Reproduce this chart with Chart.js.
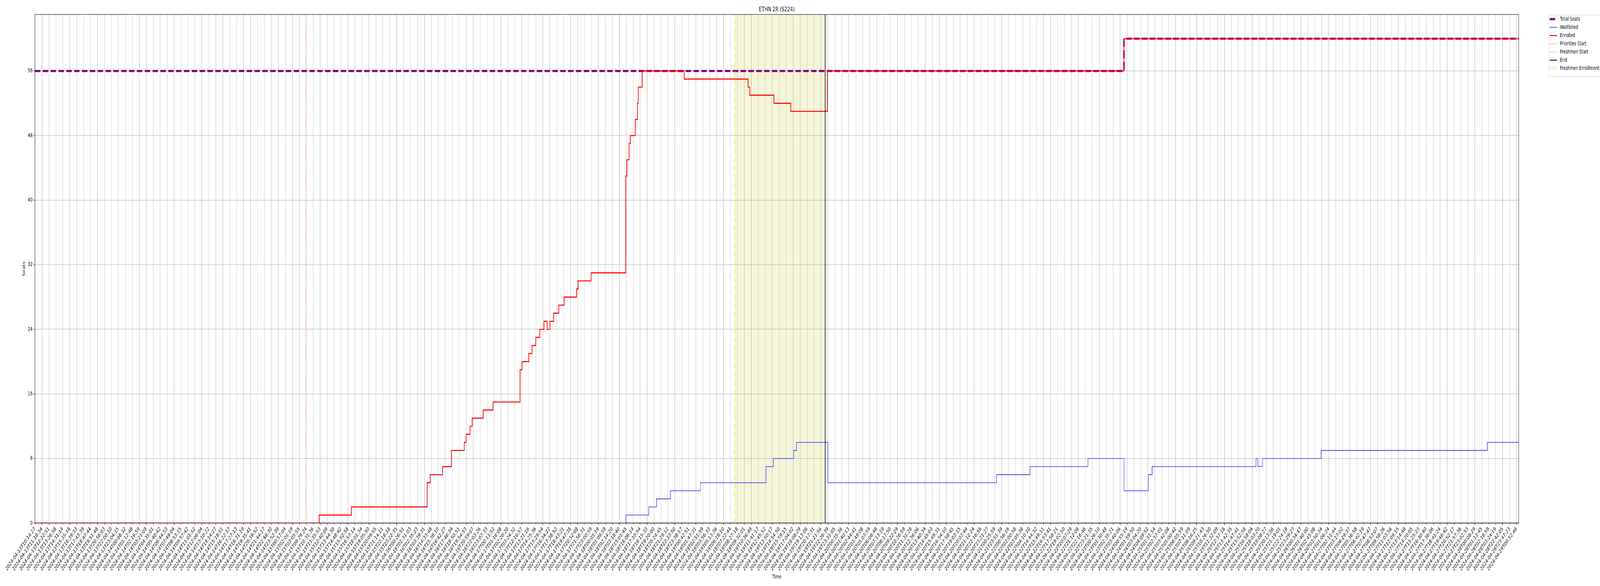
<!DOCTYPE html>
<html>
<head>
<meta charset="utf-8">
<title>ETHN 2R (S224)</title>
<script src="https://cdn.jsdelivr.net/npm/chart.js@4.4.1/dist/chart.umd.min.js"></script>
<style>
  html, body { margin: 0; padding: 0; background: #fff; overflow: hidden; }
  /* the figure is laid out at 6000x1500 and stretched to whatever window we get */
  #chart { display: block; width: 100vw !important; height: 100vh !important; }
</style>
</head>
<body>
<canvas id="chart" width="6000" height="1500"></canvas>
<script>
// ====== DATA ======
// one tick label per sampled time (categorical axis, tick index = position)
const timeLabels = [
  '2024-04-13T10:14:27', '2024-04-13T11:18:34', '2024-04-13T12:22:51', '2024-04-13T13:26:58',
  '2024-04-13T14:31:14', '2024-04-13T15:35:18', '2024-04-13T16:39:33', '2024-04-13T17:43:39',
  '2024-04-13T18:47:44', '2024-04-13T19:51:48', '2024-04-13T20:56:03', '2024-04-13T22:00:10',
  '2024-04-13T23:04:15', '2024-04-14T00:08:32', '2024-04-14T01:12:48', '2024-04-14T02:16:59',
  '2024-04-14T03:21:09', '2024-04-14T04:35:01', '2024-04-14T05:40:42', '2024-04-14T06:44:53',
  '2024-04-14T07:49:04', '2024-04-14T08:53:15', '2024-04-14T09:57:42', '2024-04-14T11:01:52',
  '2024-04-14T12:06:04', '2024-04-14T13:10:22', '2024-04-14T14:14:27', '2024-04-14T15:18:51',
  '2024-04-14T16:22:57', '2024-04-14T17:27:13', '2024-04-14T18:31:19', '2024-04-14T19:35:41',
  '2024-04-14T20:39:52', '2024-04-14T21:44:17', '2024-04-14T22:48:30', '2024-04-14T23:52:39',
  '2024-04-15T00:57:04', '2024-04-15T02:01:19', '2024-04-15T03:05:55', '2024-04-15T09:29:24',
  '2024-04-15T10:31:36', '2024-04-15T11:35:53', '2024-04-15T12:40:09', '2024-04-15T13:44:30',
  '2024-04-15T14:48:42', '2024-04-15T15:52:58', '2024-04-15T16:57:14', '2024-04-15T18:01:34',
  '2024-04-15T19:05:50', '2024-04-15T20:09:55', '2024-04-15T21:14:11', '2024-04-15T22:18:18',
  '2024-04-15T23:22:35', '2024-04-16T00:26:51', '2024-04-16T01:31:03', '2024-04-16T02:35:23',
  '2024-04-16T03:39:31', '2024-04-16T14:33:48', '2024-04-16T15:38:10', '2024-04-16T16:42:27',
  '2024-04-16T17:46:34', '2024-04-16T18:50:51', '2024-04-16T19:54:53', '2024-04-16T20:59:07',
  '2024-04-16T22:03:26', '2024-04-16T23:07:33', '2024-04-17T00:11:52', '2024-04-17T01:16:08',
  '2024-04-17T02:20:20', '2024-04-17T03:24:32', '2024-04-17T12:16:57', '2024-04-17T13:21:16',
  '2024-04-17T14:25:36', '2024-04-17T15:29:54', '2024-04-17T16:34:22', '2024-04-17T17:38:52',
  '2024-04-17T18:43:21', '2024-04-17T19:47:38', '2024-04-17T20:52:08', '2024-04-17T21:56:31',
  '2024-04-17T23:00:59', '2024-04-18T00:05:19', '2024-04-18T01:09:59', '2024-04-18T02:14:20',
  '2024-04-18T03:18:40', '2024-04-18T15:01:45', '2024-04-18T16:06:14', '2024-04-18T17:10:54',
  '2024-04-18T18:15:33', '2024-04-18T19:20:00', '2024-04-18T20:24:45', '2024-04-18T21:29:12',
  '2024-04-18T22:33:50', '2024-04-18T23:38:17', '2024-04-19T00:42:51', '2024-04-19T01:47:31',
  '2024-04-19T02:51:59', '2024-04-19T03:56:33', '2024-04-19T05:13:36', '2024-04-19T06:18:10',
  '2024-04-19T07:22:44', '2024-04-19T08:27:18', '2024-04-19T09:32:01', '2024-04-19T10:36:49',
  '2024-04-19T11:41:17', '2024-04-19T12:45:52', '2024-04-19T13:50:17', '2024-04-19T14:54:50',
  '2024-04-19T15:59:15', '2024-04-19T17:04:02', '2024-04-19T18:08:29', '2024-04-19T19:13:06',
  '2024-04-19T20:17:31', '2024-04-19T21:21:56', '2024-04-19T22:26:39', '2024-04-19T23:31:05',
  '2024-04-20T00:35:36', '2024-04-20T01:40:13', '2024-04-20T02:44:41', '2024-04-20T03:49:08',
  '2024-04-20T05:03:59', '2024-04-20T06:08:48', '2024-04-20T07:13:19', '2024-04-20T08:17:50',
  '2024-04-20T09:22:29', '2024-04-20T10:26:59', '2024-04-20T11:31:28', '2024-04-20T12:36:06',
  '2024-04-20T13:40:34', '2024-04-20T14:45:03', '2024-04-20T15:49:31', '2024-04-20T16:54:10',
  '2024-04-20T17:58:45', '2024-04-20T19:03:15', '2024-04-20T20:07:44', '2024-04-20T21:12:24',
  '2024-04-20T22:16:56', '2024-04-20T23:21:27', '2024-04-21T00:25:59', '2024-04-21T23:51:39',
  '2024-04-22T00:56:16', '2024-04-22T02:00:58', '2024-04-22T03:05:38', '2024-04-22T04:10:10',
  '2024-04-22T14:44:32', '2024-04-22T15:49:11', '2024-04-22T16:53:41', '2024-04-22T17:58:21',
  '2024-04-22T19:02:50', '2024-04-22T20:07:29', '2024-04-22T21:12:08', '2024-04-22T22:16:46',
  '2024-04-22T23:21:35', '2024-04-23T00:26:10', '2024-04-23T01:30:49', '2024-04-23T02:35:21',
  '2024-04-23T03:40:06', '2024-04-24T00:55:19', '2024-04-24T01:59:50', '2024-04-24T03:04:20',
  '2024-04-24T04:09:52', '2024-04-25T01:31:54', '2024-04-25T02:37:01', '2024-04-25T03:42:08',
  '2024-04-25T05:00:42', '2024-04-25T06:05:59', '2024-04-25T07:11:09', '2024-04-25T08:16:25',
  '2024-04-25T09:21:43', '2024-04-25T10:26:50', '2024-04-25T11:32:09', '2024-04-25T12:37:16',
  '2024-04-25T13:42:35', '2024-04-25T14:47:41', '2024-04-25T15:52:58', '2024-04-25T16:58:04',
  '2024-04-25T18:03:20', '2024-04-25T19:08:27', '2024-04-25T20:13:56', '2024-04-25T21:19:01',
  '2024-04-25T22:24:18', '2024-04-25T23:29:27', '2024-04-26T00:34:47', '2024-04-26T01:40:00',
  '2024-04-26T02:45:08', '2024-04-26T03:50:34', '2024-04-27T01:06:24', '2024-04-27T02:11:44',
  '2024-04-27T03:17:02', '2024-04-27T04:29:37', '2024-04-27T05:36:58', '2024-04-27T06:42:19',
  '2024-04-27T07:47:47', '2024-04-27T08:53:07', '2024-04-27T09:58:26', '2024-04-27T11:03:56',
  '2024-04-27T12:09:15', '2024-04-27T13:14:48', '2024-04-27T14:20:05', '2024-04-27T15:25:23',
  '2024-04-27T16:30:40', '2024-04-27T17:36:06', '2024-04-27T18:41:24', '2024-04-27T19:46:42',
  '2024-04-27T20:52:17', '2024-04-27T21:57:36', '2024-04-27T23:02:53', '2024-04-28T00:08:29',
  '2024-04-28T01:13:45', '2024-04-28T02:18:59', '2024-04-28T03:24:19', '2024-04-28T22:42:05',
  '2024-04-28T23:47:23', '2024-04-29T00:52:46'
];
const xEnd = 213.3;           // last sample, a bit past the last tick

// step series: position (in tick units) where the value changes, and the new value
const totalX = [0, 156.56, xEnd];
const totalY = [56, 60, 60];

const enrolledX = [0, 40.85, 45.5, 56.39, 56.82, 58.61, 59.87, 61.72, 61.98, 62.55, 62.86, 64.43,
  65.85, 69.74, 70.03, 70.99, 71.45, 72.0, 72.58, 73.18, 73.64, 74.05, 74.57, 75.3, 76.08, 77.86,
  78.08, 79.96, 84.93, 85.1, 85.41, 85.58, 86.3, 86.61, 86.73, 87.29, 93.33, 102.53, 102.76,
  106.23, 108.66, 113.92, 156.56, xEnd];
const enrolledY = [0, 1, 2, 5, 6, 7, 9, 10, 11, 12, 13, 14,
  15, 19, 20, 21, 22, 23, 24, 25, 24, 25, 26, 27, 28, 29,
  30, 31, 43, 45, 47, 48, 50, 52, 54, 56, 55, 54, 53,
  52, 51, 56, 60, 60];

const waitlistX = [0, 84.95, 88.25, 89.35, 91.35, 95.67, 105.11, 106.15, 109.08, 109.48, 113.99,
  138.23, 143.05, 151.38, 156.57, 160.07, 160.6, 175.55, 175.8, 176.5, 184.9, 208.8, xEnd];
const waitlistY = [0, 1, 2, 3, 4, 5, 7, 8, 9, 10, 5,
  6, 7, 8, 4, 6, 7, 8, 7, 8, 9, 10, 10];

// markers, in tick units
const prioritiesStart = 38.93;
const freshmenStart = 100.61;
const enrollEnd = 113.61;

const yMax = 63;
const yTicks = [0, 8, 16, 24, 32, 40, 48, 56];

// ====== HELPERS ======
const toPoints = (xs, ys) => xs.map((x, i) => ({ x: x, y: ys[i] }));
const vline = x => [{ x: x, y: 0 }, { x: x, y: yMax }];

Chart.defaults.font.family = '"DejaVu Sans", sans-serif';
Chart.defaults.font.size = 13.9;
Chart.defaults.color = '#000';

const FONT = '"DejaVu Sans", sans-serif';
const GRID = '#b0b0b0';

// ====== DATASETS ======
const dsSpan = {
  label: 'Freshmen Enrollment',
  data: [{ x: freshmenStart, y: yMax }, { x: enrollEnd, y: yMax }],
  fill: 'origin',
  backgroundColor: 'rgba(191,191,0,0.15)',
  borderWidth: 0,
  pointRadius: 0,
  order: 10
};
const dsTotal = {
  label: 'Total Seats',
  data: toPoints(totalX, totalY),
  stepped: 'before',
  borderColor: '#800080',
  borderWidth: 5.5,
  borderDash: [20.5, 8.9],
  pointRadius: 0,
  fill: false,
  order: 4
};
const dsWait = {
  label: 'Waitlisted',
  data: toPoints(waitlistX, waitlistY),
  stepped: 'before',
  borderColor: '#0000ff',
  borderWidth: 1.4,
  pointRadius: 0,
  fill: false,
  order: 3
};
const dsEnrolled = {
  label: 'Enrolled',
  data: toPoints(enrolledX, enrolledY),
  stepped: 'before',
  borderColor: '#ff0000',
  borderWidth: 2.6,
  pointRadius: 0,
  fill: false,
  order: 2
};
const dsPriorities = {
  label: 'Priorities Start',
  data: vline(prioritiesStart),
  borderColor: 'rgba(255,69,0,0.7)',
  borderWidth: 2.1,
  borderDash: [2.1, 3.4],
  pointRadius: 0,
  fill: false,
  order: 1
};
const dsFreshmen = {
  label: 'Freshmen Start',
  data: vline(freshmenStart),
  borderColor: '#e0e038',
  borderWidth: 2.1,
  borderDash: [13.3, 3.3, 2.1, 3.3],
  pointRadius: 0,
  fill: false,
  order: 1
};
const dsEnd = {
  label: 'End',
  data: vline(enrollEnd),
  borderColor: '#000000',
  borderWidth: 2.1,
  pointRadius: 0,
  fill: false,
  order: 1
};

// legend order as in the figure
const legendItems = [dsTotal, dsWait, dsEnrolled, dsPriorities, dsFreshmen, dsEnd, dsSpan];

// ====== DECORATION PLUGIN (title, axis names, frame, legend) ======
const decorPlugin = {
  id: 'decor',
  afterDraw(chart) {
    const ctx = chart.ctx;
    const a = chart.chartArea;
    const cx = (a.left + a.right) / 2;
    ctx.save();

    // frame
    ctx.strokeStyle = '#000';
    ctx.lineWidth = 1.1;
    ctx.strokeRect(a.left, a.top, a.right - a.left, a.bottom - a.top);

    // title
    ctx.fillStyle = '#000';
    ctx.textAlign = 'center';
    ctx.textBaseline = 'alphabetic';
    ctx.font = '16.7px ' + FONT;
    ctx.fillText('ETHN 2R (S224)', cx, 29);

    // axis names
    ctx.font = '13.9px ' + FONT;
    ctx.textBaseline = 'middle';
    ctx.fillText('Time', cx, 1477);
    ctx.save();
    ctx.translate(90, (a.top + a.bottom) / 2);
    ctx.rotate(-Math.PI / 2);
    ctx.fillText('Seats', 0, 0);
    ctx.restore();

    // legend
    const lx = 5807, ly = 38, rowH = 21;
    ctx.fillStyle = 'rgba(255,255,255,0.8)';
    ctx.strokeStyle = '#cccccc';
    ctx.lineWidth = 1;
    ctx.beginPath();
    ctx.roundRect(lx + 0.5, ly + 0.5, 260, legendItems.length * rowH + 10, 3);
    ctx.fill();
    ctx.stroke();

    ctx.textAlign = 'left';
    ctx.font = '13.9px ' + FONT;
    legendItems.forEach((ds, i) => {
      const y = ly + 11 + i * rowH;
      if (ds.fill === 'origin') {
        ctx.fillStyle = ds.backgroundColor;
        ctx.fillRect(lx + 4, y - 5, 28, 11);
      } else {
        ctx.strokeStyle = ds.borderColor;
        ctx.lineWidth = ds.borderWidth;
        ctx.setLineDash(ds.borderDash || []);
        ctx.beginPath();
        ctx.moveTo(lx + 4, y);
        ctx.lineTo(lx + 32, y);
        ctx.stroke();
        ctx.setLineDash([]);
      }
      ctx.fillStyle = '#000';
      ctx.fillText(ds.label, lx + 43, y);
    });

    ctx.restore();
  }
};

// ====== CHART ======
new Chart(document.getElementById('chart'), {
  type: 'line',
  data: {
    datasets: [dsEnd, dsFreshmen, dsPriorities, dsEnrolled, dsWait, dsTotal, dsSpan]
  },
  options: {
    responsive: false,
    animation: false,
    devicePixelRatio: 1,
    parsing: false,
    layout: { padding: { top: 37, right: 305, bottom: 0, left: 0 } },
    plugins: {
      legend: { display: false },
      title: { display: false },
      tooltip: { enabled: false }
    },
    elements: { line: { tension: 0 } },
    scales: {
      x: {
        type: 'linear',
        min: 0,
        max: xEnd,
        afterBuildTicks: s => { s.ticks = timeLabels.map((_, i) => ({ value: i })); },
        afterFit: s => { s.height = 161; },
        ticks: {
          autoSkip: false,
          maxRotation: 45,
          minRotation: 45,
          padding: 2,
          callback: v => timeLabels[v],
          font: { size: 13.9 }
        },
        grid: { color: GRID, lineWidth: 1.1, tickLength: 5, tickColor: '#000', tickWidth: 1.1 },
        border: { display: true, color: '#000', width: 1.1 }
      },
      y: {
        type: 'linear',
        min: 0,
        max: yMax,
        afterBuildTicks: s => { s.ticks = yTicks.map(v => ({ value: v })); },
        afterFit: s => { s.width = 131; },
        ticks: { padding: 4, font: { size: 13.9 } },
        grid: { color: GRID, lineWidth: 1.1, tickLength: 5, tickColor: '#000', tickWidth: 1.1 },
        border: { display: true, color: '#000', width: 1.1 }
      }
    }
  },
  plugins: [decorPlugin]
});
</script>
</body>
</html>
